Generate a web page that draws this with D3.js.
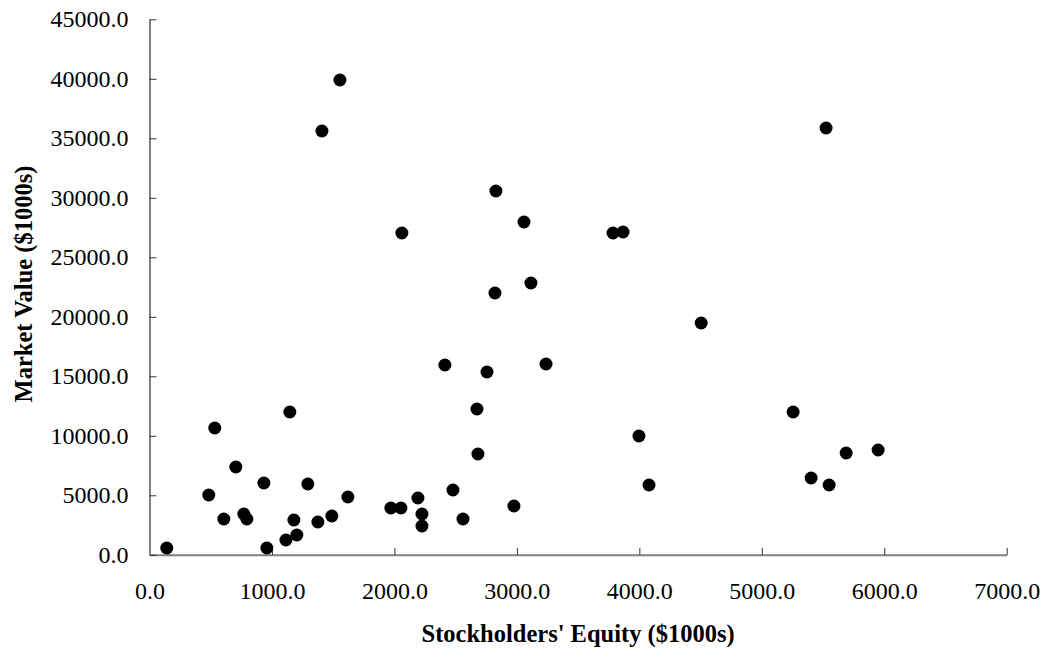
<!DOCTYPE html>
<html>
<head>
<meta charset="utf-8">
<script src="https://cdn.jsdelivr.net/npm/d3@7"></script>
<style>
  body { margin: 0; background: #fff; }
  text { font-family: "Liberation Serif", "Times New Roman", serif; fill: #000; }
</style>
</head>
<body>
<div id="chart"></div>
<script>
// stockholders' equity ($1000s) and market value ($1000s), one pair per company
var equity = [141, 484, 607, 533, 705, 770, 795, 934, 958, 1114,
  1146, 1179, 1203, 1293, 1375, 1489, 1620, 1971, 2053, 2192,
  2225, 2225, 2478, 2560, 2674, 2682, 2976, 3997, 4079, 1555,
  1408, 2061, 2829, 3058, 3785, 3867, 2821, 3115, 2412, 2756,
  3238, 4505, 5256, 5689, 5950, 5403, 5550, 5525];
var marketValue = [570, 5025, 3008, 10655, 7378, 3429, 3008, 6034, 571, 1244,
  12000, 2924, 1664, 5950, 2756, 3260, 4857, 3933, 3933, 4773,
  3428, 2420, 5445, 3008, 12252, 8470, 4100, 9983, 5866, 39900,
  35613, 27042, 30571, 27966, 27042, 27126, 22000, 22840, 15950, 15361,
  16034, 19479, 11999, 8554, 8807, 6454, 5866, 35865];
var xTicks = [0, 1000, 2000, 3000, 4000, 5000, 6000, 7000];
var yTicks = [0, 5000, 10000, 15000, 20000, 25000, 30000, 35000, 40000, 45000];

var width = 1047, height = 652;
var margin = {top: 19.3, right: 40.3, bottom: 97.2, left: 149.5};

var svg = d3.select("#chart").append("svg")
  .attr("width", width)
  .attr("height", height);

var g = svg.append("g")
  .attr("transform", "translate(" + margin.left + "," + margin.top + ")");

var w = width - margin.left - margin.right;
var h = height - margin.top - margin.bottom;

var x = d3.scaleLinear().domain([0, 7000]).range([0, w]);
var y = d3.scaleLinear().domain([0, 45000]).range([h, 0]);

var fmt = d3.format(".1f");

var xAxis = g.append("g")
  .attr("transform", "translate(0," + h + ")")
  .call(d3.axisBottom(x).tickValues(xTicks).tickFormat(fmt)
    .tickSizeInner(-7).tickSizeOuter(0).tickPadding(27));

var yAxis = g.append("g")
  .call(d3.axisLeft(y).tickValues(yTicks).tickFormat(fmt)
    .tickSizeInner(-7).tickSizeOuter(0).tickPadding(21));

[xAxis, yAxis].forEach(function(a) {
  a.select(".domain").attr("stroke", "#808080").attr("stroke-width", 2);
  a.selectAll(".tick line").attr("stroke", "#333").attr("stroke-width", 1);
  a.selectAll(".tick text")
    .style("font-family", '"Liberation Serif", "Times New Roman", serif')
    .style("font-size", "24px")
    .attr("fill", "#000");
});

g.append("g")
  .selectAll("circle")
  .data(equity)
  .enter().append("circle")
  .attr("cx", function(d) { return x(d); })
  .attr("cy", function(d, i) { return y(marketValue[i]); })
  .attr("r", 6.5)
  .attr("fill", "#000");

// axis titles
svg.append("text")
  .attr("x", margin.left + w / 2)
  .attr("y", 642)
  .attr("text-anchor", "middle")
  .style("font-size", "24.5px")
  .style("font-weight", "bold")
  .text("Stockholders' Equity ($1000s)");

svg.append("text")
  .attr("transform", "translate(32," + (margin.top + h / 2 - 3) + ") rotate(-90)")
  .attr("text-anchor", "middle")
  .style("font-size", "24.5px")
  .style("font-weight", "bold")
  .text("Market Value ($1000s)");
</script>
</body>
</html>
